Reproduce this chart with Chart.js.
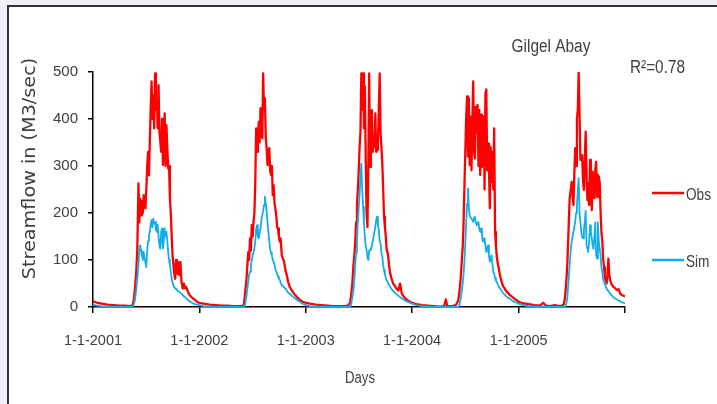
<!DOCTYPE html>
<html>
<head>
<meta charset="utf-8">
<script src="https://cdn.jsdelivr.net/npm/chart.js@4/dist/chart.umd.min.js"></script>
<style>
  html, body { margin: 0; padding: 0; background: #eef0f5; }
  #wrap { position: relative; width: 717px; height: 404px; }
  canvas { display: block; }
</style>
</head>
<body>
<div id="wrap"><canvas id="c" width="717" height="404"></canvas></div>
<script>
// ---- Data (day index from 1-1-2001, daily streamflow in m3/s) ----
const days = [
  // 2001
  0, 15, 30, 50, 70, 90, 110, 125, 135, 140,
  144, 148, 152, 156, 159, 162, 165, 168, 171, 174,
  177, 180, 183, 186, 189, 192, 195, 198, 201, 204,
  207, 210, 213, 216, 219, 222, 225, 228, 231, 234,
  237, 240, 243, 246, 249, 252, 255, 258, 261, 264,
  267, 270, 273, 276, 279, 282, 285, 288, 291, 294,
  297, 300, 304, 308, 312, 316, 320, 326, 332, 340,
  350, 360,
  // 2002
  365, 380, 400, 420, 440, 460, 480, 500, 512, 518,
  522, 526, 530, 533, 536, 539, 542, 545, 548, 551,
  554, 557, 560, 563, 566, 569, 572, 575, 578, 581,
  584, 587, 590, 593, 596, 599, 602, 605, 608, 611,
  614, 617, 620, 623, 626, 629, 632, 635, 638, 641,
  644, 648, 652, 656, 660, 665, 670, 676, 682, 690,
  700, 710, 720,
  // 2003
  730, 745, 765, 785, 805, 825, 845, 865, 875, 882,
  886, 890, 894, 897, 900, 903, 906, 909, 912, 915,
  918, 921, 924, 927, 930, 933, 936, 939, 942, 945,
  948, 951, 954, 957, 960, 963, 966, 969, 972, 975,
  978, 981, 984, 987, 990, 993, 996, 999, 1002, 1005,
  1008, 1012, 1016, 1020, 1025, 1030, 1036, 1042, 1048, 1054,
  1060, 1068, 1076, 1085,
  // 2004 dry
  1095, 1110, 1130, 1150, 1170, 1190, 1205, 1211, 1216, 1230,
  1240, 1248,
  // 2004 wet
  1254, 1258, 1262, 1266, 1269, 1272, 1275, 1278, 1281, 1284,
  1287, 1290, 1293, 1296, 1299, 1302, 1305, 1308, 1311, 1314,
  1317, 1320, 1323, 1326, 1329, 1332, 1335, 1338, 1341, 1344,
  1347, 1350, 1353, 1356, 1359, 1362, 1365, 1368, 1371, 1374,
  1377, 1380, 1383, 1386, 1390, 1394, 1398, 1402, 1407, 1412,
  1418, 1424, 1430, 1438, 1446, 1455,
  // 2005 dry
  1461, 1475, 1495, 1515, 1535, 1545, 1555, 1570, 1585, 1600,
  1610, 1616,
  // 2005 wet
  1620, 1624, 1628, 1632, 1636, 1640, 1643, 1646, 1649, 1652,
  1655, 1658, 1661, 1664, 1667, 1670, 1673, 1676, 1679, 1682,
  1685, 1688, 1691, 1694, 1697, 1700, 1703, 1706, 1709, 1712,
  1715, 1718, 1721, 1724, 1727, 1730, 1733, 1736, 1739, 1742,
  1745, 1748, 1751, 1754, 1757, 1760, 1763, 1766, 1769, 1772,
  1775, 1780, 1786, 1792, 1798, 1804, 1810, 1816, 1821, 1825
];

const obsFlow = [
  // 2001
  12, 9, 7, 5, 4, 3, 3, 2, 3, 15,
  40, 70, 120, 263, 180, 230, 195, 225, 200, 238,
  215, 210, 250, 300, 330, 280, 352, 420, 480, 400,
  451, 380, 497, 420, 444, 380, 472, 373, 352, 330,
  400, 302, 340, 412, 300, 387, 340, 295, 300, 231,
  200, 153, 110, 89, 70, 60, 100, 89, 70, 95,
  68, 96, 53, 39, 50, 40, 43, 32, 25, 20,
  15, 10,
  // 2002
  9, 7, 5, 4, 3, 3, 2, 2, 2, 5,
  30, 53, 90, 117, 100, 146, 120, 174, 150, 181,
  200, 266, 380, 330, 360, 394, 350, 423, 380, 359,
  497, 420, 444, 360, 338, 302, 330, 338, 290, 281,
  300, 238, 259, 220, 210, 195, 170, 167, 150, 139,
  146, 110, 103, 96, 80, 68, 53, 42, 36, 28,
  21, 15, 11,
  // 2003
  9, 7, 5, 4, 3, 2, 2, 2, 3, 8,
  25, 50, 89, 110, 139, 180, 217, 250, 288, 340,
  373, 497, 420, 497, 380, 470, 320, 200, 170, 300,
  497, 298, 380, 419, 330, 362, 340, 412, 330, 334,
  348, 420, 497, 370, 340, 305, 250, 192, 170, 150,
  121, 114, 90, 71, 60, 50, 45, 39, 35, 50,
  28, 21, 16, 12,
  // 2004 dry
  9, 6, 4, 3, 2, 1, 2, 16, 2, 2,
  3, 6,
  // 2004 wet
  15, 35, 60, 100, 128, 180, 260, 334, 405, 448,
  320, 444, 302, 405, 291, 387, 480, 334, 316, 426,
  370, 430, 300, 419, 281, 409, 298, 330, 405, 250,
  455, 463, 291, 348, 300, 210, 340, 266, 330, 250,
  380, 160, 130, 107, 90, 78, 64, 55, 45, 40,
  34, 30, 26, 22, 18, 14,
  // 2005 dry
  11, 8, 6, 4, 3, 9, 3, 2, 4, 2,
  3, 6,
  // 2005 wet
  20, 50, 90, 160, 230, 250, 266, 240, 217, 280,
  338, 300, 401, 420, 500, 409, 313, 320, 323, 266,
  249, 313, 373, 280, 227, 263, 217, 313, 245, 206,
  288, 263, 231, 291, 309, 234, 281, 277, 266, 206,
  160, 142, 103, 85, 64, 55, 50, 68, 103, 70,
  57, 48, 43, 40, 36, 38, 28, 25, 24, 23
];

const simFlow = [
  // 2001
  5, 3, 2, 1, 1, 0, 0, 0, 0, 5,
  15, 35, 60, 89, 125, 131, 120, 110, 100, 117,
  105, 95, 85, 120, 140, 153, 160, 175, 185, 170,
  188, 178, 181, 165, 160, 175, 150, 130, 124, 160,
  167, 124, 140, 167, 150, 160, 140, 117, 100, 89,
  75, 60, 52, 46, 42, 40, 38, 36, 34, 33,
  32, 30, 28, 25, 23, 21, 18, 15, 12, 9,
  6, 5,
  // 2002
  4, 2, 1, 0, 0, 0, 0, 0, 0, 0,
  5, 20, 40, 55, 70, 75, 90, 100, 110, 117,
  125, 140, 165, 174, 150, 146, 160, 167, 185, 195,
  205, 217, 235, 220, 203, 180, 160, 140, 124, 115,
  110, 100, 96, 90, 80, 75, 70, 65, 60, 58,
  52, 46, 44, 42, 39, 35, 30, 28, 24, 20,
  15, 11, 7,
  // 2003
  4, 2, 1, 0, 0, 0, 0, 0, 0, 0,
  5, 20, 36, 60, 90, 115, 140, 180, 210, 240,
  280, 305, 250, 213, 180, 149, 130, 121, 105, 100,
  120, 121, 125, 128, 140, 149, 160, 170, 185, 192,
  175, 163, 140, 135, 115, 107, 90, 78, 70, 62,
  57, 52, 47, 43, 38, 34, 31, 27, 24, 21,
  18, 15, 12, 10,
  // 2004 dry
  7, 4, 2, 1, 0, 0, 0, 0, 0, 0,
  0, 0,
  // 2004 wet
  0, 5, 18, 35, 50, 70, 100, 140, 181, 220,
  252, 210, 195, 190, 188, 185, 181, 190, 192, 180,
  174, 178, 181, 165, 160, 167, 155, 139, 145, 146,
  130, 117, 125, 131, 110, 96, 105, 110, 90, 75,
  70, 62, 56, 53, 47, 42, 39, 35, 30, 27,
  23, 20, 18, 14, 11, 9,
  // 2005 dry
  7, 4, 2, 1, 0, 0, 0, 0, 0, 0,
  0, 0,
  // 2005 wet
  0, 5, 20, 53, 90, 125, 139, 150, 160, 170,
  181, 200, 217, 250, 274, 200, 181, 160, 150, 146,
  165, 181, 205, 131, 125, 117, 140, 174, 160, 146,
  130, 124, 150, 180, 110, 103, 180, 139, 125, 110,
  85, 75, 60, 53, 48, 44, 39, 36, 34, 31,
  28, 25, 21, 18, 16, 14, 12, 10, 9, 8
];

const tickDays = [0, 365, 730, 1095, 1461, 1826];
const tickLabels = ['1-1-2001', '1-1-2002', '1-1-2003', '1-1-2004', '1-1-2005', ''];
const seriesNames = ['Obs', 'Sim'];
const chartTitle = 'Gilgel Abay';
const r2Text = 'R\u00B2=0.78';
const yTitle = 'Streamflow in (M3/sec)';
const xTitle = 'Days';

// ---- Styles ----
const OBS_COLOR = '#FF0000';
const SIM_COLOR = '#12AEEA';
const TEXT_COLOR = '#404040';
const ARIAL = '"Liberation Sans", Arial, sans-serif';

function fontAvailable(name) {
  const ctx = document.createElement('canvas').getContext('2d');
  const s = '1-1-2002 Obs Days 500';
  ctx.font = '40px monospace';
  const a = ctx.measureText(s).width;
  ctx.font = '40px "' + name + '", monospace';
  const b = ctx.measureText(s).width;
  return Math.abs(a - b) > 0.5;
}
const HAS_NARROW = fontAvailable('Liberation Sans Narrow');
const TICK_FONT_X = HAS_NARROW ? { family: '"Liberation Sans Narrow"', size: 17 } : { family: ARIAL, size: 14.5 };
const TICK_FONT_Y = HAS_NARROW ? { family: '"Liberation Sans Narrow"', size: 17 } : { family: ARIAL, size: 15 };

// draw text with Arial squeezed horizontally (narrow look)
function narrowText(c, text, x, y, size, align) {
  c.save();
  c.font = size + 'px ' + ARIAL;
  c.textBaseline = 'alphabetic';
  c.textAlign = 'left';
  const w = c.measureText(text).width * 0.82;
  let x0 = x;
  if (align === 'center') x0 = x - w / 2;
  else if (align === 'right') x0 = x - w;
  c.translate(x0, y);
  c.scale(0.82, 1);
  c.fillText(text, 0, 0);
  c.restore();
}

const obsPts = days.map((d, i) => ({ x: d, y: obsFlow[i] }));
const simPts = days.map((d, i) => ({ x: d, y: simFlow[i] }));

const deco = {
  id: 'deco',
  beforeDraw(chart) {
    const c = chart.ctx;
    c.save();
    c.fillStyle = '#eef0f5';
    c.fillRect(0, 0, 717, 404);
    c.fillStyle = '#ffffff';
    c.fillRect(9, 7, 708, 397);
    c.fillStyle = '#333333';
    c.fillRect(7, 5, 2, 399);
    c.fillRect(7, 5, 710, 2);
    c.restore();
  },
  afterDraw(chart) {
    const c = chart.ctx;
    c.save();
    c.fillStyle = TEXT_COLOR;
    // y title
    c.save();
    c.translate(35, 168.5);
    c.rotate(-Math.PI / 2);
    c.scale(1.13, 1);
    c.font = '17px "DejaVu Sans", Verdana, sans-serif';
    c.textAlign = 'center';
    c.textBaseline = 'alphabetic';
    c.fillText(yTitle, 0, 0);
    c.restore();
    // x title
    narrowText(c, xTitle, 360, 383, 16, 'center');
    // chart title
    narrowText(c, chartTitle, 551, 52, 18.8, 'center');
    // R2
    narrowText(c, r2Text, 630, 73, 18.7, 'left');
    // legend
    const items = [
      { name: seriesNames[0], color: OBS_COLOR, y: 193 },
      { name: seriesNames[1], color: SIM_COLOR, y: 260 }
    ];
    items.forEach(it => {
      c.strokeStyle = it.color;
      c.lineWidth = 2.5;
      c.beginPath();
      c.moveTo(652, it.y);
      c.lineTo(684, it.y);
      c.stroke();
      c.fillStyle = TEXT_COLOR;
      narrowText(c, it.name, 686, it.y + 7, 16.6, 'left');
    });
    c.restore();
  }
};

new Chart(document.getElementById('c'), {
  type: 'line',
  data: {
    datasets: [
      {
        label: seriesNames[0], data: obsPts, borderColor: OBS_COLOR, backgroundColor: OBS_COLOR,
        borderWidth: 2.3, pointRadius: 0, tension: 0, order: 1,
        borderJoinStyle: 'round', borderCapStyle: 'round'
      },
      {
        label: seriesNames[1], data: simPts, borderColor: SIM_COLOR, backgroundColor: SIM_COLOR,
        borderWidth: 1.8, pointRadius: 0, tension: 0, order: 0,
        borderJoinStyle: 'round', borderCapStyle: 'round'
      }
    ]
  },
  options: {
    responsive: false,
    animation: false,
    devicePixelRatio: 1,
    layout: { padding: { left: 0, right: 92, top: 72, bottom: 0 } },
    plugins: { legend: { display: false }, tooltip: { enabled: false }, title: { display: false } },
    scales: {
      x: {
        type: 'linear', min: 0, max: 1826,
        afterBuildTicks(scale) { scale.ticks = tickDays.map(v => ({ value: v })); },
        afterFit(scale) { scale.height = 97; },
        grid: { display: true, drawOnChartArea: false, drawTicks: true, tickLength: 6, color: '#000', lineWidth: 1.5 },
        border: { display: true, color: '#000', width: 1.5 },
        ticks: {
          autoSkip: false, maxRotation: 0, padding: HAS_NARROW ? 17 : 19, color: TEXT_COLOR,
          font: TICK_FONT_X,
          callback(v) { const i = tickDays.indexOf(v); return i >= 0 ? tickLabels[i] : ''; }
        }
      },
      y: {
        min: 0, max: 500,
        afterFit(scale) { scale.width = 93; },
        grid: { display: true, drawOnChartArea: false, drawTicks: true, tickLength: 5, color: '#000', lineWidth: 1.5 },
        border: { display: true, color: '#000', width: 1.5 },
        ticks: { stepSize: 100, padding: 10, color: TEXT_COLOR, font: TICK_FONT_Y }
      }
    }
  },
  plugins: [deco]
});
</script>
</body>
</html>
